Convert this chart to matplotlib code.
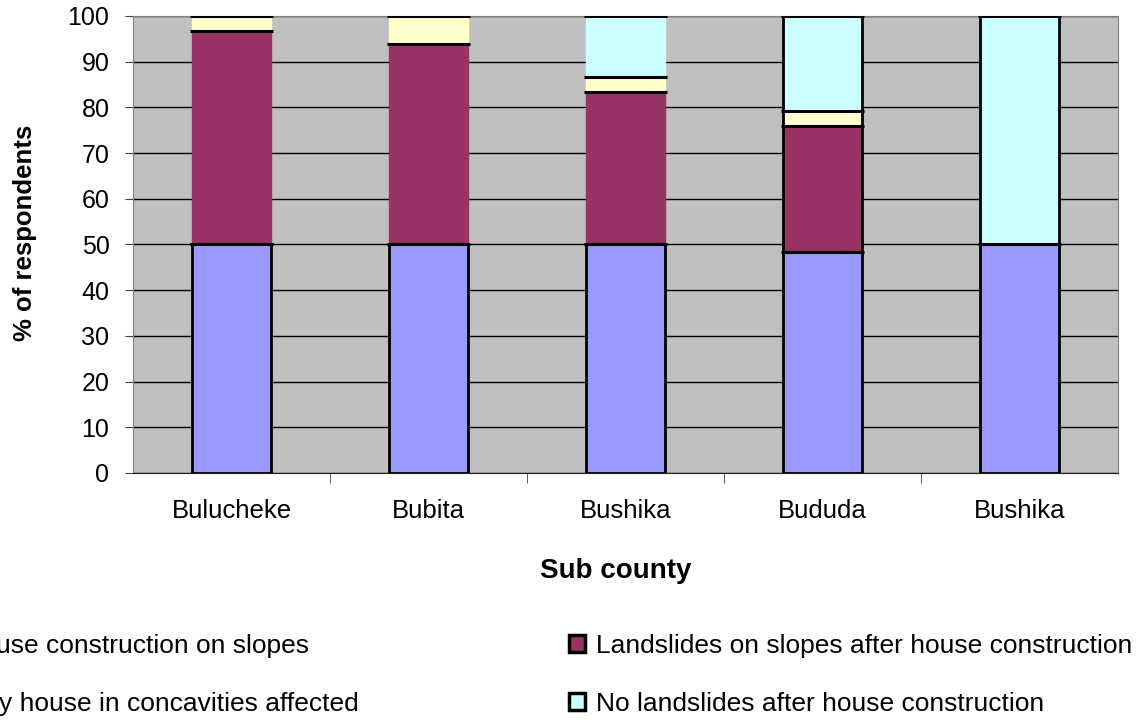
import matplotlib.pyplot as plt
from matplotlib.patches import Patch
import numpy as np

plt.rcParams['font.family'] = ['Liberation Sans', 'DejaVu Sans']

# sub counties along x
sub_counties = ['Bulucheke', 'Bubita', 'Bushika', 'Bududa', 'Bushika']

# % of respondents, stacked bottom to top
before_construction = [50, 50, 50, 48.3, 50]
after_construction = [46.7, 43.9, 33.4, 27.6, 0]
concavities = [3.3, 6.1, 3.3, 3.4, 0]
no_landslides = [0, 0, 13.3, 20.7, 50]

labels = ['Landslides before house construction on slopes',
          'Landslides on slopes after house construction',
          'Landslides where only house in concavities affected',
          'No landslides after house construction']
colors = ['#9999FF', '#993366', '#FFFFCC', '#CCFFFF']

# bars drawn with a full black outline (the others only get black lines at segment tops)
outlined = [False, False, False, True, True]

fig = plt.figure(figsize=(11.44, 7.26), dpi=100)
ax = fig.add_axes([0.1163, 0.3485, 0.8610, 0.6295])
ax.set_facecolor('#C0C0C0')

x = np.arange(len(sub_counties))
w = 0.4
series = [before_construction, after_construction, concavities, no_landslides]
bottom = np.zeros(len(x))
for k, (vals, col) in enumerate(zip(series, colors)):
    vals = np.array(vals, dtype=float)
    for i in range(len(x)):
        if vals[i] <= 0:
            continue
        full = k == 0 or outlined[i]
        ax.bar(x[i], vals[i], w, bottom=bottom[i], color=col,
               edgecolor='black' if full else col,
               linewidth=2 if full else 1, zorder=3)
        top = bottom[i] + vals[i]
        ax.hlines(top, x[i] - w / 2 - 0.01, x[i] + w / 2 + 0.01,
                  colors='black', linewidth=2.2, zorder=4)
    bottom += vals

ax.set_xlim(-0.5, len(x) - 0.5)
ax.set_ylim(0, 100)
ax.set_yticks(np.arange(0, 101, 10))
ax.yaxis.grid(True, color='black', linewidth=1)
ax.set_axisbelow(True)

ax.set_xticks(x)
ax.set_xticklabels(sub_counties, fontsize=18.5)
ax.set_xticks(np.arange(0.5, len(x) - 0.5, 1), minor=True)
ax.tick_params(axis='x', which='major', length=0, pad=19)
ax.tick_params(axis='x', which='minor', length=7, color='#404040', direction='out')
ax.tick_params(axis='y', labelsize=18, length=6, color='#404040', pad=11)

for side in ['top', 'right', 'left']:
    ax.spines[side].set_color('#808080')
ax.spines['bottom'].set_color('#202020')

ax.set_xlabel('Sub county', fontsize=20, fontweight='bold', labelpad=25)
ax.set_ylabel('% of respondents', fontsize=18.5, fontweight='bold', labelpad=22)
ax.xaxis.label.set_x(0.49)
ax.yaxis.label.set_y(0.526)

handles = [Patch(facecolor=c, edgecolor='black', linewidth=2.5) for c in colors]
order = [0, 2, 1, 3]
fig.legend([handles[i] for i in order], [labels[i] for i in order],
           loc='upper left', bbox_to_anchor=(-0.2625, 0.16), ncol=2,
           frameon=False, fontsize=19, handlelength=0.6, handleheight=0.6,
           handletextpad=0.45, labelspacing=1.3, columnspacing=7.95)

fig.savefig('out.png', dpi=100)
